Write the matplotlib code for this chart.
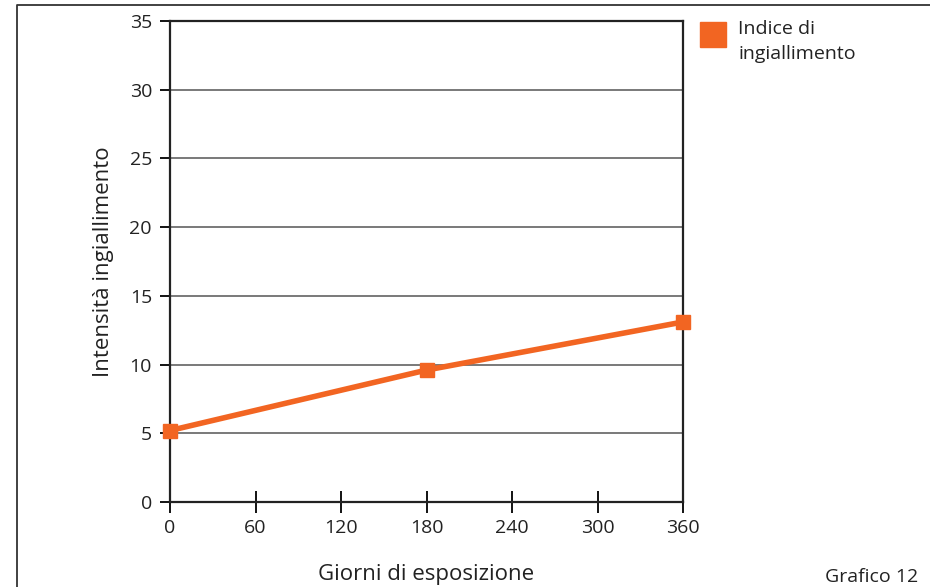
import matplotlib.pyplot as plt
from matplotlib.lines import Line2D
from matplotlib.patches import Rectangle

plt.rcParams['font.family'] = ['Open Sans', 'DejaVu Sans']

# data
giorni = [0, 180, 360]
indice = [5.2, 9.6, 13.1]
x_ticks = [0, 60, 120, 180, 240, 300, 360]
y_ticks = [0, 5, 10, 15, 20, 25, 30, 35]

orange = '#F26522'
txt = '#222222'

fig = plt.figure(figsize=(9.3, 5.87), dpi=100)
ax = fig.add_axes([170 / 930, 1 - 502 / 587, 513 / 930, 481 / 587])

ax.plot(giorni, indice, color=orange, linewidth=4, marker='s',
        markersize=10, solid_capstyle='butt', zorder=3, clip_on=False)

ax.set_xlim(0, 360)
ax.set_ylim(0, 35)
ax.set_xticks(x_ticks)
ax.set_yticks(y_ticks)
ax.tick_params(axis='x', direction='inout', length=16, width=1.3,
               labelsize=14, labelcolor=txt, pad=4)
ax.tick_params(axis='y', direction='out', length=7, width=1.3,
               labelsize=14, labelcolor=txt, pad=6)
ax.yaxis.grid(True, color='#555555', linewidth=1.1)
ax.set_axisbelow(True)
for s in ax.spines.values():
    s.set_linewidth(1.6)
    s.set_color('#222222')

ax.set_xlabel('Giorni di esposizione', fontsize=16, color=txt, labelpad=20)
ax.set_ylabel('Intensità ingiallimento', fontsize=16, color=txt, labelpad=11)

# legend
fig.patches.append(Rectangle((700 / 930, 1 - 47 / 587), 26 / 930, 25 / 587,
                             transform=fig.transFigure, color=orange))
fig.text(738 / 930, 1 - 20 / 587, 'Indice di\ningiallimento', fontsize=14,
         color=txt, va='top', ha='left', linespacing=1.5)

fig.text(918 / 930, 1 - 577 / 587, 'Grafico 12', fontsize=14, color=txt,
         ha='right', va='center')

# outer frame (left and top)
fig.add_artist(Line2D([17 / 930, 17 / 930, 1.0], [0.0, 1 - 5 / 587, 1 - 5 / 587],
                      transform=fig.transFigure, color='#333333', linewidth=1.3))

fig.savefig('out.png', dpi=100)
